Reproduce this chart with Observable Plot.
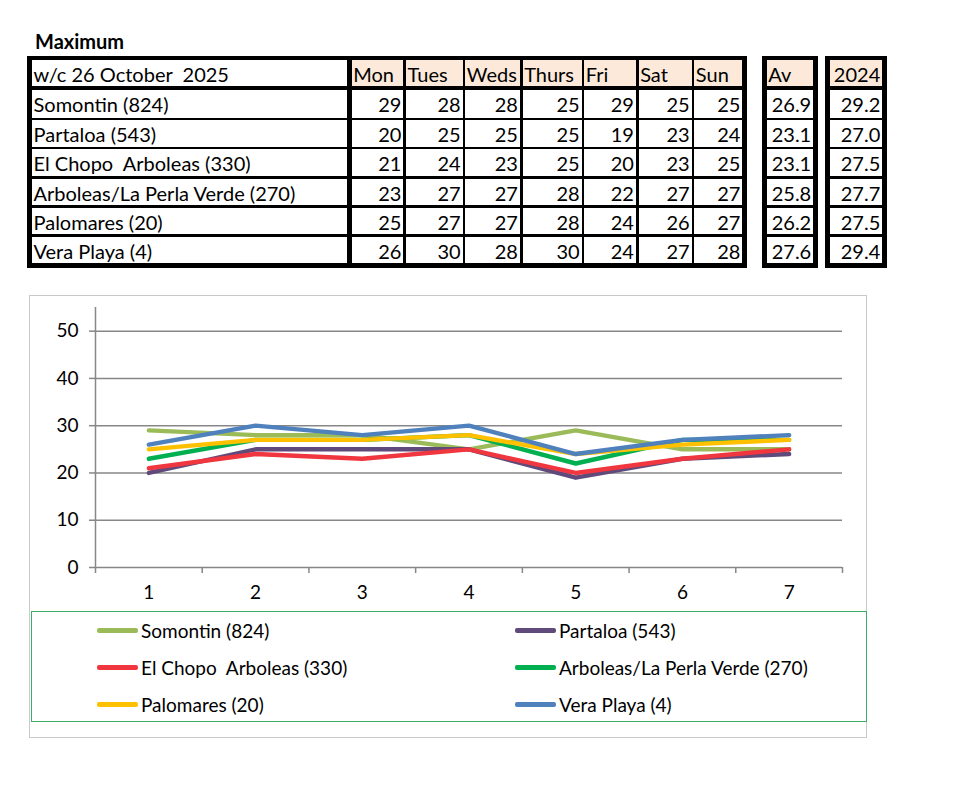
<!DOCTYPE html>
<html><head><meta charset="utf-8">
<script src="https://cdn.jsdelivr.net/npm/d3@7"></script>
<script src="https://cdn.jsdelivr.net/npm/@observablehq/plot@0.6"></script>
<style>
body{margin:0;background:#fff;font-family:Lato,"Open Sans",sans-serif;color:#000;}
#page{position:relative;width:979px;height:800px;overflow:hidden;}
.abs{position:absolute;box-sizing:border-box;}
.cell{position:absolute;box-sizing:border-box;white-space:pre;font-size:20px;display:flex;align-items:center;}
.leg{position:absolute;white-space:pre;font-size:19px;display:flex;align-items:center;}
</style></head><body><div id="page"></div>
<script>
// ---------- data ----------
const title = "Maximum";
const weekLabel = "w/c 26 October  2025";
const dayLabels = ["Mon","Tues","Weds","Thurs","Fri","Sat","Sun"];
const dayNumbers = [1,2,3,4,5,6,7];
const stations = ["Somontin (824)","Partaloa (543)","El Chopo  Arboleas (330)","Arboleas/La Perla Verde (270)","Palomares (20)","Vera Playa (4)"];
const somontin  = [29,28,28,25,29,25,25];
const partaloa  = [20,25,25,25,19,23,24];
const elChopo   = [21,24,23,25,20,23,25];
const arboleas  = [23,27,27,28,22,27,27];
const palomares = [25,27,27,28,24,26,27];
const veraPlaya = [26,30,28,30,24,27,28];
const avLabel = "Av";
const averages = ["26.9","23.1","23.1","25.8","26.2","27.6"];
const lastYearLabel = "2024";
const lastYear = ["29.2","27.0","27.5","27.7","27.5","29.4"];
const colours = ["#9BBB59","#604A7B","#F0363E","#00B050","#FFC000","#4F81BD"];
const yTicks = [0,10,20,30,40,50];

const series = [somontin, partaloa, elChopo, arboleas, palomares, veraPlaya];

// ---------- helpers ----------
const page = document.getElementById("page");
function el(cls, css, text) {
  const d = document.createElement("div");
  d.className = cls;
  Object.assign(d.style, css);
  if (text !== undefined) d.textContent = text;
  page.appendChild(d);
  return d;
}
const peach = "#FDE9D9";

// title
el("abs", {left:"35px", top:"29px", fontSize:"20px", fontWeight:"700"}, title);

// row line centres and thickness
const rowLines = [58, 88, 119, 148, 177.7, 206.7, 235.5, 265.5];
const rowThick = [4.5, 4, 2.5, 2.5, 2.5, 2.5, 2.5, 4.5];

function drawTable(colLines, colThick, headers, headerAlign, body, bodyAlign) {
  for (let r = 0; r < rowLines.length - 1; r++) {
    for (let c = 0; c < colLines.length - 1; c++) {
      const x0 = colLines[c] + colThick[c]/2, x1 = colLines[c+1] - colThick[c+1]/2;
      const y0 = rowLines[r] + rowThick[r]/2, y1 = rowLines[r+1] - rowThick[r+1]/2;
      const isHead = r === 0;
      const text = isHead ? headers[c] : body[r-1][c];
      const align = isHead ? headerAlign[c] : bodyAlign[c];
      const fill = isHead && headers.fill[c] ? peach : "#fff";
      el("cell", {left:x0+"px", top:y0+"px", width:(x1-x0)+"px", height:(y1-y0)+"px",
        background: fill, justifyContent: align === "right" ? "flex-end" : "flex-start",
        paddingLeft: "1.5px", paddingRight: "2px", paddingTop:"1px"}, String(text));
    }
  }
  const top = rowLines[0] - rowThick[0]/2, bot = rowLines[rowLines.length-1] + rowThick[rowThick.length-1]/2;
  const left = colLines[0] - colThick[0]/2, right = colLines[colLines.length-1] + colThick[colThick.length-1]/2;
  rowLines.forEach((y, i) => el("abs", {left:left+"px", top:(y-rowThick[i]/2)+"px", width:(right-left)+"px", height:rowThick[i]+"px", background:"#000"}));
  colLines.forEach((x, i) => el("abs", {left:(x-colThick[i]/2)+"px", top:top+"px", width:colThick[i]+"px", height:(bot-top)+"px", background:"#000"}));
}

const mainHeaders = [weekLabel, ...dayLabels];
mainHeaders.fill = [false, true, true, true, true, true, true, true];
drawTable(
  [29.5, 349.5, 404.7, 464, 521.3, 583, 637.3, 693, 744.7],
  [5, 4.5, 2.7, 2.7, 2.7, 2.7, 2.7, 2.7, 4.5],
  mainHeaders, ["left", ...dayLabels.map(() => "left")],
  stations.map((s, i) => [s, ...series[i]]),
  ["left", ...dayLabels.map(() => "right")]
);
const avH = [avLabel]; avH.fill = [true];
drawTable([764.2, 815.5], [5, 4.5], avH, ["left"], averages.map(v => [v]), ["right"]);
const lyH = [lastYearLabel]; lyH.fill = [true];
drawTable([827.5, 884.5], [5, 4.5], lyH, ["right"], lastYear.map(v => [v]), ["right"]);

// ---------- chart ----------
el("abs", {left:"29px", top:"295px", width:"838px", height:"443px", border:"1.5px solid #c9c9c9"});

const tidy = [];
stations.forEach((s, i) => series[i].forEach((v, j) => tidy.push({station: s, day: dayNumbers[j], value: v})));
const edges = [0.5, ...dayNumbers.map(d => d + 0.5)];

const chart = Plot.plot({
  width: 837, height: 310,
  marginLeft: 66, marginRight: 24, marginTop: 11, marginBottom: 39,
  style: {fontFamily: "Lato, 'Open Sans', sans-serif", fontSize: "19px", color: "#000", background: "transparent", overflow: "visible"},
  x: {domain: [0.5, 7.5]},
  y: {domain: [0, 55]},
  color: {domain: stations, range: colours},
  marks: [
    Plot.gridY(yTicks, {stroke: "#878787", strokeOpacity: 1, strokeWidth: 1.5}),
    Plot.ruleX([0.5], {stroke: "#878787", strokeWidth: 1.5}),
    Plot.axisY({ticks: yTicks, tickSize: 6, tickPadding: 11, tickFormat: d => String(d), stroke: "#878787", strokeWidth: 1.5, label: null, fill: "#000"}),
    Plot.axisX({ticks: edges, tickSize: 6, tickFormat: () => "", stroke: "#878787", strokeWidth: 1.5, label: null}),
    Plot.axisX({ticks: dayNumbers, tickSize: 0, tickPadding: 18, tickFormat: d => String(d), label: null, fill: "#000"}),
    Plot.lineY(tidy, {x: "day", y: "value", z: "station", stroke: "station", strokeWidth: 4.4, strokeLinejoin: "round", strokeLinecap: "round"})
  ]
});
chart.style.position = "absolute";
chart.style.left = "29px";
chart.style.top = "296px";
page.appendChild(chart);

// legend
el("abs", {left:"31px", top:"611px", width:"836px", height:"111px", border:"1.5px solid #3DAE6A"});
const legPos = [[97, 630], [515, 630], [97, 667], [515, 667], [97, 704], [515, 704]];
stations.forEach((s, i) => {
  const [x, y] = legPos[i];
  el("abs", {left:x+"px", top:(y-2)+"px", width:"41px", height:"4.5px", borderRadius:"2px", background: colours[i]});
  el("leg", {left:(x+44)+"px", top:(y-12)+"px", height:"24px"}, s);
});
</script>
</body></html>
